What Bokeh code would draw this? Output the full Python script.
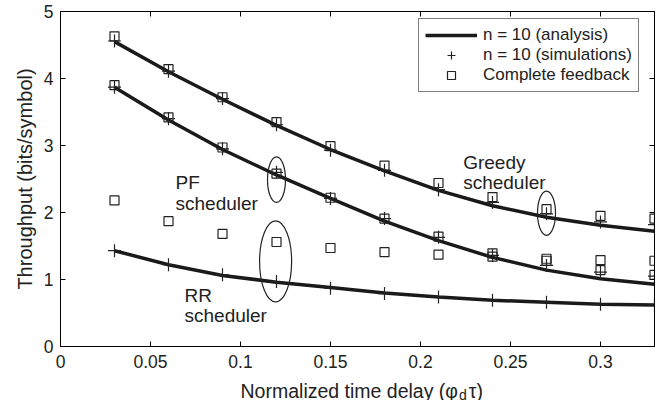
from bokeh.plotting import figure
from bokeh.models import (Legend, LegendItem, Label, LinearAxis, FixedTicker)
from bokeh.layouts import column
from bokeh.core.properties import value
from bokeh.embed import file_html
from bokeh.resources import INLINE

# ---------------- data ----------------
delay = [0.03, 0.06, 0.09, 0.12, 0.15, 0.18, 0.21, 0.24, 0.27, 0.30, 0.33]

greedy_analysis = [4.55, 4.10, 3.69, 3.30, 2.94, 2.62, 2.33, 2.10, 1.93, 1.81, 1.72]
greedy_sim      = [4.56, 4.11, 3.70, 3.31, 2.93, 2.63, 2.34, 2.15, 1.98, 1.86, 1.82]
greedy_full     = [4.63, 4.14, 3.72, 3.35, 2.99, 2.70, 2.44, 2.23, 2.05, 1.95, 1.91]

pf_analysis = [3.87, 3.38, 2.94, 2.56, 2.21, 1.87, 1.58, 1.33, 1.14, 1.01, 0.93]
pf_sim      = [3.87, 3.40, 2.95, 2.60, 2.21, 1.91, 1.63, 1.36, 1.21, 1.11, 1.05]
pf_full     = [3.90, 3.42, 2.97, 2.58, 2.22, 1.91, 1.64, 1.39, 1.28, 1.14, 1.07]

rr_analysis = [1.43, 1.22, 1.06, 0.96, 0.88, 0.80, 0.74, 0.69, 0.66, 0.63, 0.62]
rr_sim      = [1.43, 1.22, 1.07, 0.97, 0.87, 0.79, 0.74, 0.69, 0.66, 0.63, 0.62]
rr_full     = [2.18, 1.87, 1.68, 1.56, 1.47, 1.41, 1.37, 1.34, 1.31, 1.29, 1.28]

x_ticks = [0, 0.05, 0.1, 0.15, 0.2, 0.25, 0.3]
x_tick_labels = ["0", "0.05", "0.1", "0.15", "0.2", "0.25", "0.3"]
y_ticks = [0, 1, 2, 3, 4, 5]

x_label_main = "Normalized time delay (\u03c6"
x_label_sub = "d"
x_label_tail = "\u03c4)"

# annotation ellipses: (center x, center y, width, height)
ellipses = [(0.12, 2.49, 0.010, 0.68), (0.1195, 1.27, 0.0178, 1.21), (0.27, 1.99, 0.010, 0.66)]

FONT = "Liberation Sans"
TXT = "#222222"

p = figure(width=662, height=376, x_range=(0, 0.33), y_range=(0, 5),
           output_backend="svg", toolbar_location=None,
           min_border_left=60, min_border_right=8, min_border_top=11, min_border_bottom=30)
p.xgrid.visible = False
p.ygrid.visible = False
p.outline_line_color = "black"
p.outline_line_alpha = 1
p.background_fill_color = "white"
p.border_fill_color = "white"

for ax, ticks in ((p.xaxis[0], x_ticks), (p.yaxis[0], y_ticks)):
    ax.ticker = FixedTicker(ticks=ticks)
    ax.major_tick_in = 5
    ax.major_tick_out = 0
    ax.minor_tick_line_color = None
    ax.axis_line_color = "black"
    ax.major_tick_line_color = "black"
    ax.major_label_text_font = FONT
    ax.major_label_text_font_size = "17.5px"
    ax.major_label_text_color = TXT

p.xaxis[0].major_label_overrides = {t: l for t, l in zip(x_ticks, x_tick_labels)}
p.xaxis[0].major_label_standoff = 8
p.yaxis[0].major_label_standoff = 7
p.yaxis[0].axis_label = "Throughput (bits/symbol)"
p.yaxis[0].axis_label_text_font = FONT
p.yaxis[0].axis_label_text_font_size = "20px"
p.yaxis[0].axis_label_text_font_style = "normal"
p.yaxis[0].axis_label_text_color = TXT
p.yaxis[0].axis_label_standoff = 5

top = LinearAxis(ticker=FixedTicker(ticks=x_ticks), major_tick_in=5, major_tick_out=0,
                 minor_tick_line_color=None, major_label_text_font_size="0px",
                 major_label_standoff=0)
right = LinearAxis(ticker=FixedTicker(ticks=y_ticks), major_tick_in=5, major_tick_out=0,
                   minor_tick_line_color=None, major_label_text_font_size="0px",
                   major_label_standoff=0)
p.add_layout(top, "above")
p.add_layout(right, "right")

# curves & markers
line_r = None
plus_r = None
sq_r = None
for ana, sim, full in ((greedy_analysis, greedy_sim, greedy_full),
                       (pf_analysis, pf_sim, pf_full),
                       (rr_analysis, rr_sim, rr_full)):
    lr = p.line(delay, ana, line_color="#1a1a1a", line_width=3.5)
    sr = p.scatter(delay, full, marker="square", size=9, fill_color=None,
                   line_color=TXT, line_width=1.2)
    pr = p.scatter(delay, sim, marker="cross", size=13, line_color=TXT, line_width=1.2)
    if line_r is None:
        line_r, plus_r, sq_r = lr, pr, sr

for cx, cy, w, h in ellipses:
    p.ellipse(x=[cx], y=[cy], width=[w], height=[h], fill_color=None,
              line_color=TXT, line_width=1.2)

# text annotations
ann = [("PF", 0.0639, 2.45), ("scheduler", 0.0639, 2.13),
       ("Greedy", 0.2237, 2.75), ("scheduler", 0.2237, 2.45),
       ("RR", 0.0689, 0.76), ("scheduler", 0.0689, 0.46)]
for t, x, y in ann:
    p.add_layout(Label(x=x, y=y, text=t, text_font=FONT, text_font_size="19px",
                       text_color=TXT, text_baseline="alphabetic"))

legend = Legend(items=[LegendItem(label="n = 10 (analysis)", renderers=[line_r]),
                       LegendItem(label="n = 10 (simulations)", renderers=[plus_r]),
                       LegendItem(label="Complete feedback", renderers=[sq_r])],
                location=(358, 254), padding=6, spacing=0,
                glyph_width=52, glyph_height=20, label_height=20, label_standoff=6,
                label_text_font=FONT, label_text_font_size="17px", label_text_color=TXT,
                border_line_color="black", border_line_width=1, margin=0,
                background_fill_alpha=1)
p.add_layout(legend, "center")

# x-axis title strip (pixel coordinates, so the subscript can be placed)
q = figure(width=662, height=24, x_range=(0, 662), y_range=(0, 24),
           output_backend="svg", toolbar_location=None,
           x_axis_type=None, y_axis_type=None,
           min_border_left=0, min_border_right=0, min_border_top=0, min_border_bottom=0)
q.xgrid.visible = False
q.ygrid.visible = False
q.outline_line_color = None
q.border_fill_color = "white"
q.background_fill_color = "white"
q.text(x=[443], y=[10], text=[x_label_main], text_align="right", text_baseline="alphabetic",
       text_font=value(FONT), text_font_size="19.5px", text_color=TXT)
q.text(x=[444], y=[6], text=[x_label_sub], text_align="left", text_baseline="alphabetic",
       text_font=value(FONT), text_font_size="14px", text_color=TXT)
q.text(x=[455], y=[10], text=[x_label_tail], text_align="left", text_baseline="alphabetic",
       text_font=value(FONT), text_font_size="19.5px", text_color=TXT)

layout = column(p, q, spacing=0)
open("out.html", "w").write(file_html(layout, INLINE))
